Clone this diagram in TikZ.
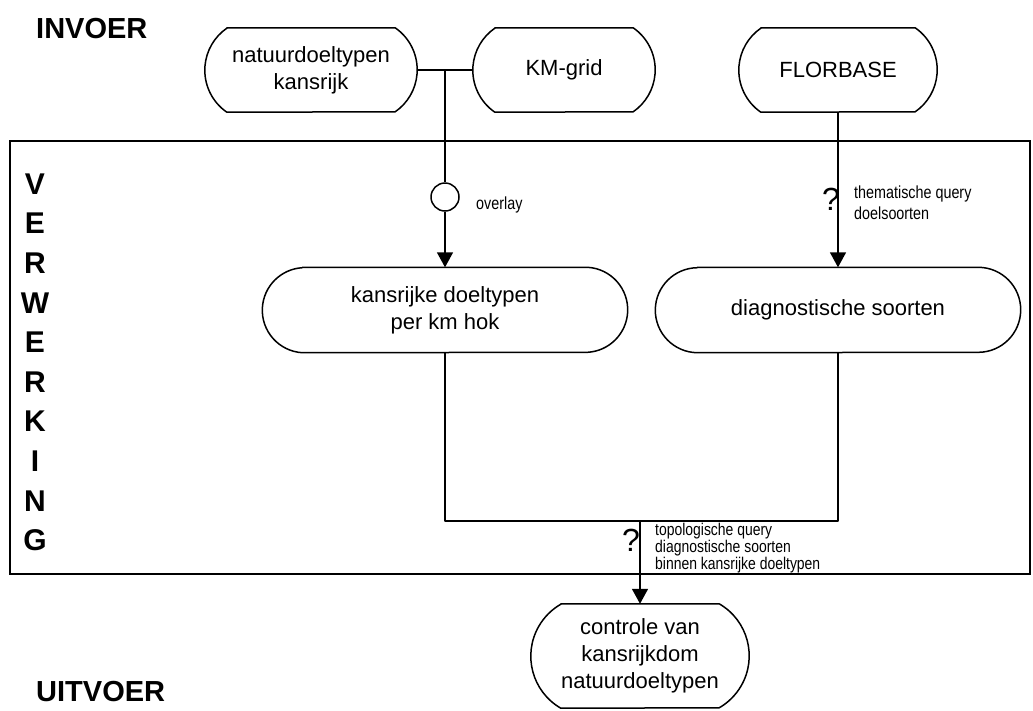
\documentclass[tikz,border=0pt]{standalone}
\usepackage{fontspec}
\setmainfont{Liberation Sans}
\newfontfamily\narrowfont[FakeStretch=0.82]{Liberation Sans}
\usetikzlibrary{arrows.meta}

% outline of a flow box: straight top and bottom, circular arc ends
% #1 node name, #2 inset of the straight edges, #3 half height of the box
\newcommand\bulgeoutline[3]{%
  \pgfmathsetmacro\bulgerad{(#2*#2+#3*#3)/(2*#2)}%
  \pgfmathsetmacro\bulgeang{atan2(#3,\bulgerad-#2)}%
  \draw[conn] ([xshift=#2pt]#1.north west) -- ([xshift=-#2pt]#1.north east)
    arc[start angle=-\bulgeang, end angle=\bulgeang, radius=\bulgerad]
    -- ([xshift=#2pt]#1.south west)
    arc[start angle=180-\bulgeang, end angle=180+\bulgeang, radius=\bulgerad]
    -- cycle;}

\begin{document}
\begin{tikzpicture}[x=1pt,y=-1pt,
  every node/.style={inner sep=0pt},
  flow/.style={rectangle,align=center,font=\fontsize{22}{27}\selectfont},
  conn/.style={line width=1.5pt,line join=round},
  arr/.style={conn,-{Triangle[width=16pt,length=15pt]}},
  note/.style={align=left,anchor=west,font=\narrowfont\fontsize{17.5}{21}\selectfont},
  smallnote/.style={align=left,anchor=west,font=\narrowfont\fontsize{17}{15}\selectfont},
  qmark/.style={font=\fontsize{32}{32}\selectfont},
  title/.style={font=\bfseries\fontsize{29}{29}\selectfont,anchor=base west},
  letter/.style={font=\bfseries\fontsize{30}{30}\selectfont}
]
\useasboundingbox (0,0) rectangle (1033,710);

% processing area
\draw[line width=1.5pt] (10,141) rectangle (1030,574);

% section titles
\node[title] (tin) at (36,38) {INVOER};
\node[title] (tout) at (36,701) {UITVOER};
\foreach \l [count=\i] in {V,E,R,W,E,R,K,I,N,G}
  \node[letter] (vw\i) at (35,{184+39.6*(\i-1)}) {\l};

% input sources
\node[flow,minimum width=212pt,minimum height=84pt]
  (ndt) at (311,70) {natuurdoeltypen\\kansrijk};
\node[flow,minimum width=182pt,minimum height=84pt]
  (km) at (564,70) {KM-grid};
\node[flow,minimum width=198pt,minimum height=84pt]
  (flor) at (838,70) {FLORBASE};

% intermediate results
\node[flow,minimum width=365pt,minimum height=85pt]
  (kans) at (445,310) {kansrijke doeltypen\\per km hok};
\node[flow,minimum width=365pt,minimum height=85pt]
  (diag) at (838,310) {diagnostische soorten};

% output
\node[flow,minimum width=218pt,minimum height=104pt]
  (ctrl) at (640,656) {controle van\\kansrijkdom\\natuurdoeltypen};

\bulgeoutline{ndt}{22}{42}
\bulgeoutline{km}{22}{42}
\bulgeoutline{flor}{22}{42}
\bulgeoutline{kans}{40}{42.5}
\bulgeoutline{diag}{42}{42.5}
\bulgeoutline{ctrl}{30}{52}

% overlay operator
\node[draw,circle,line width=1.5pt,minimum size=28pt] (ov) at (445,197) {};
\node[note] (ovl) at (476,205) {overlay};

% overlay of the two grids
\coordinate (j) at (445,70);
\draw[conn] (ndt.east) -- (km.west);
\draw[conn] (j) -- (ov.north);
\draw[arr] (ov.south) -- (kans.north);

% thematic query
\draw[arr] (flor.south) -- (diag.north);
\node[qmark] (q1) at (831,199) {?};
\node[note] (q1l) at (854,203) {thematische query\\doelsoorten};

% topological query
\coordinate (bl) at (445,521);
\coordinate (br) at (838,521);
\coordinate (m) at (640,521);
\draw[conn] (kans.south) -- (bl) -- (br) -- (diag.south);
\draw[arr] (m) -- (ctrl.north);
\node[qmark] (q2) at (631,540) {?};
\node[smallnote] (q2l) at (655,548) {topologische query\\diagnostische soorten\\binnen kansrijke doeltypen};
\end{tikzpicture}
\end{document}
